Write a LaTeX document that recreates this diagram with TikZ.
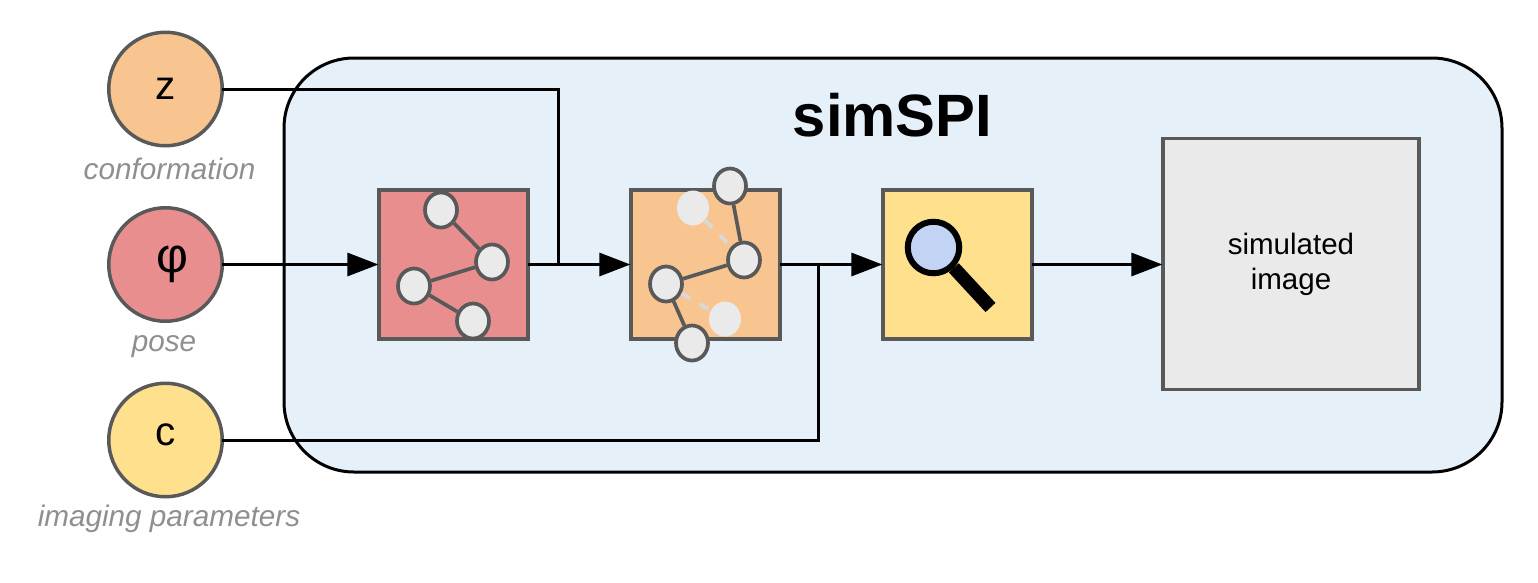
\documentclass[tikz,border=0pt]{standalone}
\usepackage{fontspec}
\setmainfont{Liberation Sans}
\usetikzlibrary{arrows.meta,shapes.geometric}

\definecolor{panelblue}{HTML}{E6F0F9}
\definecolor{posered}{HTML}{E88E8E}
\definecolor{conforange}{HTML}{F8C490}
\definecolor{paramyellow}{HTML}{FFE08D}
\definecolor{imagegray}{HTML}{EAEAEA}
\definecolor{edgegray}{HTML}{595959}
\definecolor{captiongray}{HTML}{8F8F8F}
\definecolor{lensblue}{HTML}{C2D3F3}

\tikzset{
  varcircle/.style={circle,draw=edgegray,line width=0.035cm,minimum size=1.135cm,inner sep=0,font=\fontsize{11.5}{12}\selectfont},
  caption/.style={font=\fontsize{8.45}{10}\selectfont\itshape,text=captiongray,inner sep=0},
  stagebox/.style={rectangle,draw=edgegray,line width=0.032cm,minimum size=1.49cm,inner sep=0},
  atom/.style={ellipse,draw=edgegray,fill=imagegray,line width=0.037cm,minimum width=0.32cm,minimum height=0.35cm,inner sep=0},
  ghost/.style={ellipse,fill=imagegray,minimum width=0.32cm,minimum height=0.35cm,inner sep=0},
  bond/.style={edgegray,line width=0.037cm},
  ghostbond/.style={draw=black!15,line width=0.04cm,dash pattern=on 0.1cm off 0.11cm},
  link/.style={black,line width=0.03cm,shorten <=-0.02cm},
  arrowlink/.style={link,shorten >=-0.01cm,-{Triangle[length=0.31cm,width=0.23cm]}}
}

\begin{document}
\begin{tikzpicture}
  \useasboundingbox (0,0) rectangle (15.38,5.82);
  % container
  \node[rectangle,rounded corners=0.7cm,draw=black,fill=panelblue,line width=0.03cm,minimum width=12.18cm,minimum height=4.14cm,inner sep=0] (panel) at (8.93,3.17) {};
  \node[font=\fontsize{17}{20}\selectfont\bfseries,inner sep=0] (title) at (8.925,4.665) {simSPI};

  % connectors
  \coordinate (joinz) at (5.58,3.175);
  \coordinate (joinc) at (8.18,3.175);

  % inputs
  \node[varcircle,fill=conforange] (z) at (1.655,4.93) {\raisebox{-0.05cm}{z}};
  \node[varcircle,fill=posered] (phi) at (1.655,3.175) {\hspace*{0.13cm}\raisebox{-0.18cm}{\fontsize{14}{14}\selectfont φ}};
  \node[varcircle,fill=paramyellow] (c) at (1.655,1.42) {\raisebox{0.11cm}{c}};
  \node[caption] (zcap) at (1.695,4.13) {conformation};
  \node[caption] (phicap) at (1.64,2.35) {pose};
  \node[caption] (ccap) at (1.69,0.63) {imaging parameters};

  % stages
  \node[stagebox,fill=posered] (pose) at (4.535,3.175) {};
  \node[stagebox,fill=conforange] (conf) at (7.055,3.175) {};
  \node[stagebox,fill=paramyellow] (render) at (9.575,3.175) {};
  \node[rectangle,draw=edgegray,fill=imagegray,line width=0.032cm,minimum width=2.56cm,minimum height=2.51cm,inner sep=0,align=center,font=\fontsize{8.4}{10}\selectfont] (image) at (12.91,3.18) {simulated\\image};

  \draw[arrowlink] (phi) -- (pose);
  \draw[arrowlink] (pose) -- (conf);
  \draw[arrowlink] (conf) -- (render);
  \draw[arrowlink] (render) -- (image.west |- render);
  \draw[link] (z) -| (joinz);
  \draw[link] (c) -| (joinc);

  % molecule, pose
  \node[atom] (p1) at (4.41,3.72) {};
  \node[atom] (p2) at (4.92,3.20) {};
  \node[atom] (p3) at (4.14,2.96) {};
  \node[atom] (p4) at (4.73,2.61) {};
  \draw[bond] (p1) -- (p2);
  \draw[bond] (p2) -- (p3);
  \draw[bond] (p3) -- (p4);

  % molecule, conformation
  \node[ghost] (g1) at (6.93,3.74) {};
  \node[ghost] (g2) at (7.25,2.63) {};
  \node[atom] (q1) at (7.30,3.96) {};
  \node[atom] (q2) at (7.44,3.22) {};
  \node[atom] (q3) at (6.66,2.98) {};
  \node[atom] (q4) at (6.92,2.39) {};
  \draw[ghostbond] (g1) -- (q2);
  \draw[ghostbond] (q3) -- (g2);
  \draw[bond] (q1) -- (q2);
  \draw[bond] (q2) -- (q3);
  \draw[bond] (q3) -- (q4);

  % magnifier
  \coordinate (handleend) at (9.905,2.745);
  \node[circle,draw=black,fill=lensblue,line width=0.06cm,minimum size=0.515cm,inner sep=0] (lens) at (9.335,3.345) {};
  \draw[black,line width=0.135cm] (lens.-45) -- (handleend);
\end{tikzpicture}
\end{document}
